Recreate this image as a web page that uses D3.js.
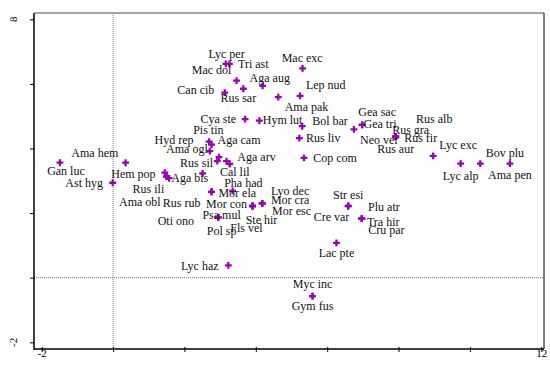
<!DOCTYPE html>
<html><head><meta charset="utf-8">
<script src="https://cdn.jsdelivr.net/npm/d3@7"></script>
<style>
body{margin:0;background:#fff;}
svg text{font-family:"Liberation Serif","Times New Roman",serif;}
</style></head>
<body><svg id="c" width="550" height="365"></svg>
<script>
const species = ["Lyc per","Tri ast","Mac dol","Mac exc","Aga aug","Lep nud","Can cib","Rus sar","Ama pak","Cya ste","Hym lut","Bol bar","Gea sac","Gea tri","Rus alb","Rus gra","Neo ver","Rus fir","Rus aur","Lyc exc","Bov plu","Lyc alp","Ama pen","Pis tin","Hyd rep","Aga cam","Ama ogl","Rus sil","Aga arv","Cal lil","Cop com","Rus liv","Ama hem","Gan luc","Ast hyg","Hem pop","Aga bis","Rus ili","Ama obl","Rus rub","Oti ono","Pha had","Mor ela","Mor con","Psa mul","Pol sp","Fls vel","Ste hir","Lyo dec","Mor cra","Mor esc","Str esi","Cre var","Plu atr","Tra hir","Cru par","Lac pte","Lyc haz","Myc inc","Gym fus"];
// point scores (axis 1, axis 2)
const pointX = [3.16,3.46,3.26,5.31,4.19,4.63,3.13,3.65,5.24,3.70,4.10,5.30,6.98,6.98,7.92,7.92,6.75,7.92,7.92,8.97,10.29,9.74,11.12,2.76,2.69,2.92,2.71,2.97,3.18,3.27,5.35,5.22,0.35,-1.49,-0.01,1.45,1.57,1.50,1.50,2.51,2.76,3.35,2.76,3.91,2.95,2.95,3.91,3.91,4.18,4.18,4.18,6.59,6.59,6.97,6.97,6.97,6.26,3.23,5.59,5.59];
const pointY = [6.62,6.10,6.62,6.48,5.94,5.59,5.73,5.85,5.63,4.91,4.86,4.69,4.73,4.73,4.37,4.37,4.59,4.37,4.37,3.77,3.53,3.53,3.53,4.12,4.21,3.61,3.92,3.73,3.61,3.52,3.71,4.32,3.56,3.56,2.94,3.25,3.08,3.13,3.13,3.23,2.66,2.69,2.66,2.22,1.87,1.87,2.22,2.22,2.30,2.30,2.30,2.22,2.22,1.83,1.83,1.83,1.08,0.38,-0.57,-0.57];
// label positions (axis units)
const labelX = [3.18,3.93,2.76,5.30,4.39,5.96,2.32,3.51,5.42,2.95,4.75,6.08,7.40,7.48,9.00,8.34,7.46,8.62,7.92,9.67,10.98,9.74,11.12,2.67,1.71,3.53,2.07,2.34,4.02,3.41,6.22,5.89,-0.51,-1.32,-0.81,0.57,2.15,0.99,0.75,1.92,1.76,3.65,3.48,3.18,3.04,3.04,3.74,4.16,4.96,4.96,5.00,6.59,6.12,7.59,7.57,7.66,6.26,2.43,5.59,5.59];
const labelY = [6.93,6.61,6.45,6.82,6.20,5.97,5.81,5.57,5.29,4.91,4.88,4.85,5.13,4.77,4.92,4.57,4.26,4.33,3.98,4.13,3.87,3.16,3.18,4.57,4.28,4.28,3.98,3.56,3.73,3.28,3.70,4.33,3.88,3.30,2.94,3.23,3.08,2.75,2.35,2.33,1.76,2.95,2.63,2.30,1.96,1.45,1.55,1.78,2.68,2.41,2.07,2.56,1.87,2.18,1.73,1.48,0.76,0.36,-0.20,-0.88];
const xTicks = [-2,0,2,4,6,8,10,12];
const yTicks = [-2,0,2,4,6,8];
const xTickLabels = ["-2","","","","","","","12"];
const yTickLabels = ["-2","","","","","8"];

const svg = d3.select("#c");
const L=34, R=544, T=13, B=349;
const x = d3.scaleLinear().domain([-2,12]).range([41.7,541.3]);
const y = d3.scaleLinear().domain([-2,8]).range([342.3,19.3]);

// frame
svg.append("line").attr("x1",L).attr("x2",R).attr("y1",T).attr("y2",T).attr("stroke","#888").attr("stroke-width",1.5);
svg.append("line").attr("x1",R).attr("x2",R).attr("y1",T).attr("y2",B).attr("stroke","#000").attr("stroke-width",1);

// zero lines
svg.append("line").attr("x1",x(0)).attr("x2",x(0)).attr("y1",T).attr("y2",B)
  .attr("stroke","#777").attr("stroke-dasharray","1,1").attr("stroke-width",1);
svg.append("line").attr("x1",L).attr("x2",R).attr("y1",y(0)).attr("y2",y(0))
  .attr("stroke","#777").attr("stroke-dasharray","1,1").attr("stroke-width",1);

// axes
const xa = d3.axisBottom(x).tickValues(xTicks).tickSize(3).tickSizeOuter(0)
  .tickFormat((d,i)=>xTickLabels[i]);
const gx = svg.append("g").attr("transform",`translate(0,${B})`).call(xa);
gx.select(".domain").remove();
gx.selectAll(".tick line").attr("y1",-2).attr("y2",3).attr("stroke","#000");
gx.selectAll(".tick text").attr("font-size",11).attr("font-family","Liberation Serif").attr("dy","0.55em").attr("y",2);
svg.append("line").attr("x1",L).attr("x2",R).attr("y1",B).attr("y2",B).attr("stroke","#000").attr("stroke-width",1.5);

const ya = d3.axisLeft(y).tickValues(yTicks).tickSize(4).tickSizeOuter(0)
  .tickFormat(()=> "");
const gy = svg.append("g").attr("transform",`translate(${L},0)`).call(ya);
gy.select(".domain").remove();
gy.selectAll(".tick line").attr("stroke","#000");
svg.append("line").attr("x1",L).attr("x2",L).attr("y1",T).attr("y2",B+0.75).attr("stroke","#000").attr("stroke-width",1.5);
svg.append("g").selectAll("text").data(yTicks).join("text")
  .attr("transform",d=>`translate(17,${y(d)}) rotate(-90)`)
  .attr("text-anchor","middle").attr("font-size",11)
  .text((d,i)=>yTickLabels[i]);

const idx = d3.range(species.length);
// points
const sym = d3.symbol().type(d3.symbolCross).size(26);
svg.append("g").selectAll("path").data(idx).join("path")
  .attr("d",sym).attr("transform",i=>`translate(${x(pointX[i])},${y(pointY[i])})`)
  .attr("fill","#9b00bb");
// labels
svg.append("g").selectAll("text").data(idx).join("text")
  .attr("x",i=>x(labelX[i])).attr("y",i=>y(labelY[i]))
  .attr("text-anchor","middle").attr("dy","0.35em")
  .attr("font-size",12).attr("fill","#111")
  .text(i=>species[i]);
</script></body></html>
